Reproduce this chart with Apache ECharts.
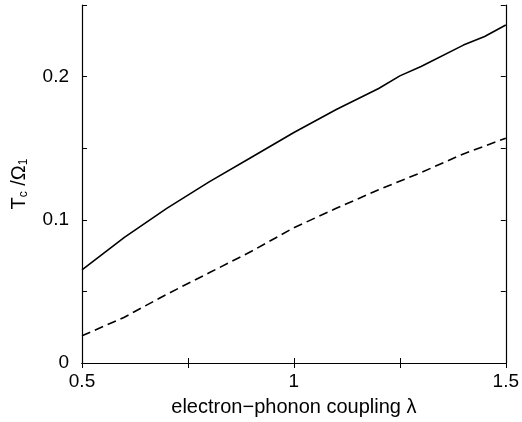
<!DOCTYPE html>
<html>
<head>
<meta charset="utf-8">
<script src="https://cdn.jsdelivr.net/npm/echarts@6/dist/echarts.min.js"></script>
<style>
  html, body { margin: 0; padding: 0; background: #fff; }
  #chart { width: 522px; height: 422px; }
</style>
</head>
<body>
<div id="chart"></div>
<script>
// coupling lambda values
const lambdaSolid = [0.5, 0.6, 0.7, 0.8, 0.9, 1.0, 1.1, 1.2, 1.25, 1.3, 1.4, 1.45, 1.5];
const tcSolid = [0.065, 0.0877, 0.108, 0.1265, 0.1437, 0.161, 0.177, 0.1917, 0.2005, 0.207, 0.222, 0.228, 0.236];

const lambdaDashed = [0.5, 0.6, 0.7, 0.8, 0.9, 1.0, 1.1, 1.2, 1.3, 1.4, 1.5];
const tcDashed = [0.019, 0.032, 0.048, 0.063, 0.078, 0.0945, 0.108, 0.121, 0.133, 0.146, 0.157];

const xTickLabels = [0.5, 1, 1.5];
const yTickLabels = [0, 0.1, 0.2];

const font = 'Liberation Sans, Arial, Helvetica, sans-serif';

const pick = (labels) => (v) => {
  const hit = labels.find((l) => Math.abs(l - v) < 1e-6);
  return hit === undefined ? '' : String(hit);
};

const chart = echarts.init(document.getElementById('chart'));

const tickStyle = { inside: true, length: 5, lineStyle: { color: '#000', width: 1 } };
const lineStyle = { color: '#000', width: 1.2 };

const option = {
  animation: false,
  grid: { left: 78, right: 13, top: 5, bottom: 58 },
  xAxis: [
    {
      type: 'value',
      min: 0.5,
      max: 1.5,
      interval: 0.25,
      name: 'electron\u2212phonon coupling \u03bb',
      nameLocation: 'middle',
      nameGap: 34,
      nameTextStyle: { fontFamily: font, fontSize: 20, color: '#000' },
      axisLine: { lineStyle },
      axisTick: tickStyle,
      axisLabel: { formatter: pick(xTickLabels), fontFamily: font, fontSize: 19, color: '#000', margin: 9 },
      splitLine: { show: false }
    },
    {
      type: 'value',
      position: 'top',
      min: 0.5,
      max: 1.5,
      interval: 0.25,
      axisLine: { lineStyle },
      axisTick: tickStyle,
      axisLabel: { show: false },
      splitLine: { show: false }
    }
  ],
  yAxis: [
    {
      type: 'value',
      min: 0,
      max: 0.25,
      interval: 0.05,
      name: '{m|T}{s|c}{m| /\u03a9}{s|1}',
      nameLocation: 'middle',
      nameRotate: 90,
      nameGap: 52,
      nameTextStyle: {
        color: '#000',
        rich: {
          m: { fontFamily: font, fontSize: 20, color: '#000', lineHeight: 22 },
          s: { fontFamily: font, fontSize: 12, color: '#000', lineHeight: 22, padding: [10, 0, 0, 0] }
        }
      },
      axisLine: { lineStyle },
      axisTick: tickStyle,
      axisLabel: { formatter: pick(yTickLabels), fontFamily: font, fontSize: 19, color: '#000', margin: 13 },
      splitLine: { show: false }
    },
    {
      type: 'value',
      position: 'right',
      min: 0,
      max: 0.25,
      interval: 0.05,
      axisLine: { lineStyle },
      axisTick: tickStyle,
      axisLabel: { show: false },
      splitLine: { show: false }
    }
  ],
  series: [
    {
      type: 'line',
      data: lambdaSolid.map((x, i) => [x, tcSolid[i]]),
      showSymbol: false,
      lineStyle: { color: '#000', width: 1.6 }
    },
    {
      type: 'line',
      data: lambdaDashed.map((x, i) => [x, tcDashed[i]]),
      showSymbol: false,
      lineStyle: { color: '#000', width: 1.6, type: [9, 5] }
    }
  ]
};

chart.setOption(option);
</script>
</body>
</html>
